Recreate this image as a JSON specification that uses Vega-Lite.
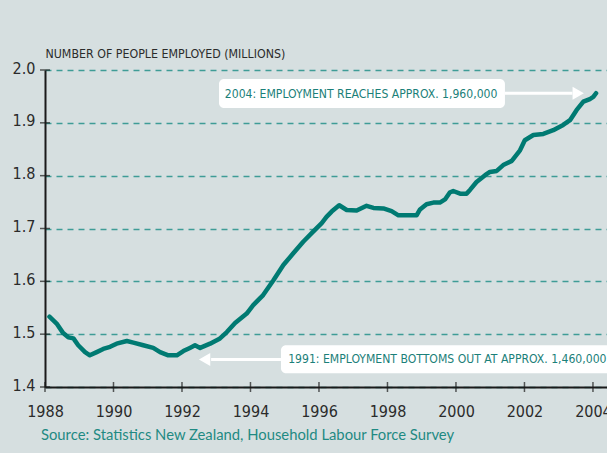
{
  "$schema": "https://vega.github.io/schema/vega-lite/v6.json",
  "autosize": "none",
  "width": 562,
  "height": 317,
  "padding": {"left": 45, "top": 70, "right": 0, "bottom": 66},
  "background": "#d6dfe0",
  "config": {
    "view": {"stroke": null},
    "font": "DejaVu Sans Condensed"
  },
  "title": {
    "text": "Source: Statistics New Zealand, Household Labour Force Survey",
    "orient": "bottom",
    "anchor": "start",
    "frame": "group",
    "dx": -4,
    "offset": 9,
    "font": "Lato",
    "fontSize": 14.8,
    "fontWeight": "normal",
    "color": "#1f8a83"
  },
  "datasets": {
    "employment": [
      {"year": 1988.13, "value": 1.533}, {"year": 1988.34, "value": 1.520}, {"year": 1988.53, "value": 1.502},
      {"year": 1988.68, "value": 1.494}, {"year": 1988.83, "value": 1.492}, {"year": 1988.97, "value": 1.479},
      {"year": 1989.17, "value": 1.466}, {"year": 1989.31, "value": 1.460}, {"year": 1989.51, "value": 1.466},
      {"year": 1989.70, "value": 1.472}, {"year": 1989.90, "value": 1.476}, {"year": 1990.09, "value": 1.482},
      {"year": 1990.39, "value": 1.487}, {"year": 1990.58, "value": 1.484}, {"year": 1990.87, "value": 1.479},
      {"year": 1991.16, "value": 1.474}, {"year": 1991.36, "value": 1.466}, {"year": 1991.60, "value": 1.460},
      {"year": 1991.85, "value": 1.460}, {"year": 1992.04, "value": 1.468}, {"year": 1992.23, "value": 1.474},
      {"year": 1992.38, "value": 1.479}, {"year": 1992.53, "value": 1.474}, {"year": 1992.82, "value": 1.482},
      {"year": 1993.11, "value": 1.492}, {"year": 1993.31, "value": 1.504}, {"year": 1993.55, "value": 1.521},
      {"year": 1993.89, "value": 1.539}, {"year": 1994.08, "value": 1.555}, {"year": 1994.37, "value": 1.574},
      {"year": 1994.67, "value": 1.602}, {"year": 1994.96, "value": 1.631}, {"year": 1995.25, "value": 1.653},
      {"year": 1995.54, "value": 1.675}, {"year": 1995.83, "value": 1.694}, {"year": 1996.08, "value": 1.710},
      {"year": 1996.22, "value": 1.722}, {"year": 1996.37, "value": 1.732}, {"year": 1996.59, "value": 1.744},
      {"year": 1996.81, "value": 1.735}, {"year": 1997.10, "value": 1.734},
      {"year": 1997.39, "value": 1.743}, {"year": 1997.59, "value": 1.739}, {"year": 1997.88, "value": 1.738},
      {"year": 1998.12, "value": 1.733}, {"year": 1998.32, "value": 1.725}, {"year": 1998.85, "value": 1.725},
      {"year": 1998.95, "value": 1.736}, {"year": 1999.14, "value": 1.746}, {"year": 1999.34, "value": 1.749},
      {"year": 1999.53, "value": 1.749}, {"year": 1999.68, "value": 1.755}, {"year": 1999.82, "value": 1.768},
      {"year": 1999.92, "value": 1.771}, {"year": 2000.12, "value": 1.766}, {"year": 2000.31, "value": 1.766},
      {"year": 2000.41, "value": 1.773}, {"year": 2000.60, "value": 1.788}, {"year": 2000.85, "value": 1.801},
      {"year": 2000.99, "value": 1.807}, {"year": 2001.19, "value": 1.809}, {"year": 2001.38, "value": 1.820},
      {"year": 2001.63, "value": 1.828}, {"year": 2001.87, "value": 1.848}, {"year": 2002.01, "value": 1.867},
      {"year": 2002.26, "value": 1.877}, {"year": 2002.55, "value": 1.879}, {"year": 2002.84, "value": 1.886},
      {"year": 2003.13, "value": 1.896}, {"year": 2003.33, "value": 1.905}, {"year": 2003.52, "value": 1.924},
      {"year": 2003.72, "value": 1.940}, {"year": 2003.91, "value": 1.945}, {"year": 2004.01, "value": 1.949},
      {"year": 2004.09, "value": 1.956}
    ],
    "notes": [
      {"label": "2004: EMPLOYMENT REACHES APPROX. 1,960,000", "bx": 1993.08, "bx2": 2001.43, "by": 1.983, "by2": 1.928, "tx": 1993.25, "ty": 1.955, "ax": 2001.43, "ax2": 2003.4, "ay": 1.956, "hx": 2003.57, "shape": "triangle-right"},
      {"label": "1991: EMPLOYMENT BOTTOMS OUT AT APPROX. 1,460,000", "bx": 1994.89, "bx2": 2004.8, "by": 1.479, "by2": 1.426, "tx": 1995.1, "ty": 1.453, "ax": 1994.89, "ax2": 1992.85, "ay": 1.452, "hx": 1992.66, "shape": "triangle-left"}
    ],
    "xticks": [{"year": 1988}, {"year": 1990}, {"year": 1992}, {"year": 1994}, {"year": 1996}, {"year": 1998}, {"year": 2000}, {"year": 2002}, {"year": 2004}],
    "yticks": [{"value": 1.4}, {"value": 1.5}, {"value": 1.6}, {"value": 1.7}, {"value": 1.8}, {"value": 1.9}, {"value": 2.0}]
  },
  "layer": [
    {
      "data": {"name": "employment"},
      "mark": {"type": "line", "color": "#007a72", "strokeWidth": 4.5, "strokeJoin": "round", "strokeCap": "round"},
      "encoding": {
        "x": {
          "field": "year", "type": "quantitative",
          "scale": {"domain": [1988, 2004.41], "nice": false, "zero": false},
          "axis": {
            "values": [1988, 1990, 1992, 1994, 1996, 1998, 2000, 2002, 2004],
            "format": "d", "title": null, "grid": false,
            "domainColor": "#1a1a1a", "domainWidth": 2,
            "ticks": false, "labelPadding": 16,
            "labelFontSize": 16, "labelColor": "#2b2b2b", "labelFont": "DejaVu Sans Condensed",
            "labelFlush": false, "labelOverlap": false
          }
        },
        "y": {
          "field": "value", "type": "quantitative",
          "scale": {"domain": [1.4, 2.0], "nice": false, "zero": false},
          "axis": {
            "values": [1.4, 1.5, 1.6, 1.7, 1.8, 1.9, 2.0],
            "format": ".1f",
            "title": "NUMBER OF PEOPLE EMPLOYED (MILLIONS)",
            "titleAngle": 0, "titleAlign": "left", "titleBaseline": "alphabetic",
            "titleX": 0, "titleY": -13, "titleFontSize": 12.3, "titleFontWeight": "normal",
            "titleColor": "#2b2b2b", "titleFont": "DejaVu Sans Condensed",
            "grid": true, "gridColor": "#3f9c96", "gridDash": [6, 5], "gridWidth": 1.5,
            "domainColor": "#1a1a1a", "domainWidth": 2,
            "ticks": false, "labelPadding": 10,
            "labelFontSize": 16, "labelColor": "#2b2b2b", "labelFont": "DejaVu Sans Condensed",
            "labelOffset": -2, "labelFlush": false
          }
        }
      }
    },
    {
      "data": {"name": "xticks"},
      "mark": {"type": "tick", "orient": "vertical", "size": 10, "thickness": 1.5, "color": "#1a1a1a"},
      "encoding": {
        "x": {"field": "year", "type": "quantitative"},
        "y": {"datum": 1.4, "type": "quantitative"}
      }
    },
    {
      "data": {"name": "yticks"},
      "mark": {"type": "tick", "orient": "horizontal", "size": 10, "thickness": 1.5, "color": "#1a1a1a"},
      "encoding": {
        "x": {"datum": 1988, "type": "quantitative"},
        "y": {"field": "value", "type": "quantitative"}
      }
    },
    {
      "data": {"name": "notes"},
      "mark": {"type": "rect", "color": "white", "cornerRadius": 5},
      "encoding": {
        "x": {"field": "bx", "type": "quantitative"},
        "x2": {"field": "bx2"},
        "y": {"field": "by", "type": "quantitative"},
        "y2": {"field": "by2"}
      }
    },
    {
      "data": {"name": "notes"},
      "mark": {"type": "rule", "color": "white", "strokeWidth": 3},
      "encoding": {
        "x": {"field": "ax", "type": "quantitative"},
        "x2": {"field": "ax2"},
        "y": {"field": "ay", "type": "quantitative"}
      }
    },
    {
      "data": {"name": "notes"},
      "mark": {"type": "point", "filled": true, "color": "white", "opacity": 1, "size": 170},
      "encoding": {
        "x": {"field": "hx", "type": "quantitative"},
        "y": {"field": "ay", "type": "quantitative"},
        "shape": {"field": "shape", "type": "nominal", "scale": null}
      }
    },
    {
      "data": {"name": "notes"},
      "mark": {"type": "text", "align": "left", "baseline": "middle", "font": "DejaVu Sans Condensed", "fontSize": 12.1, "color": "#1b8079"},
      "encoding": {
        "x": {"field": "tx", "type": "quantitative"},
        "y": {"field": "ty", "type": "quantitative"},
        "text": {"field": "label"}
      }
    }
  ]
}
